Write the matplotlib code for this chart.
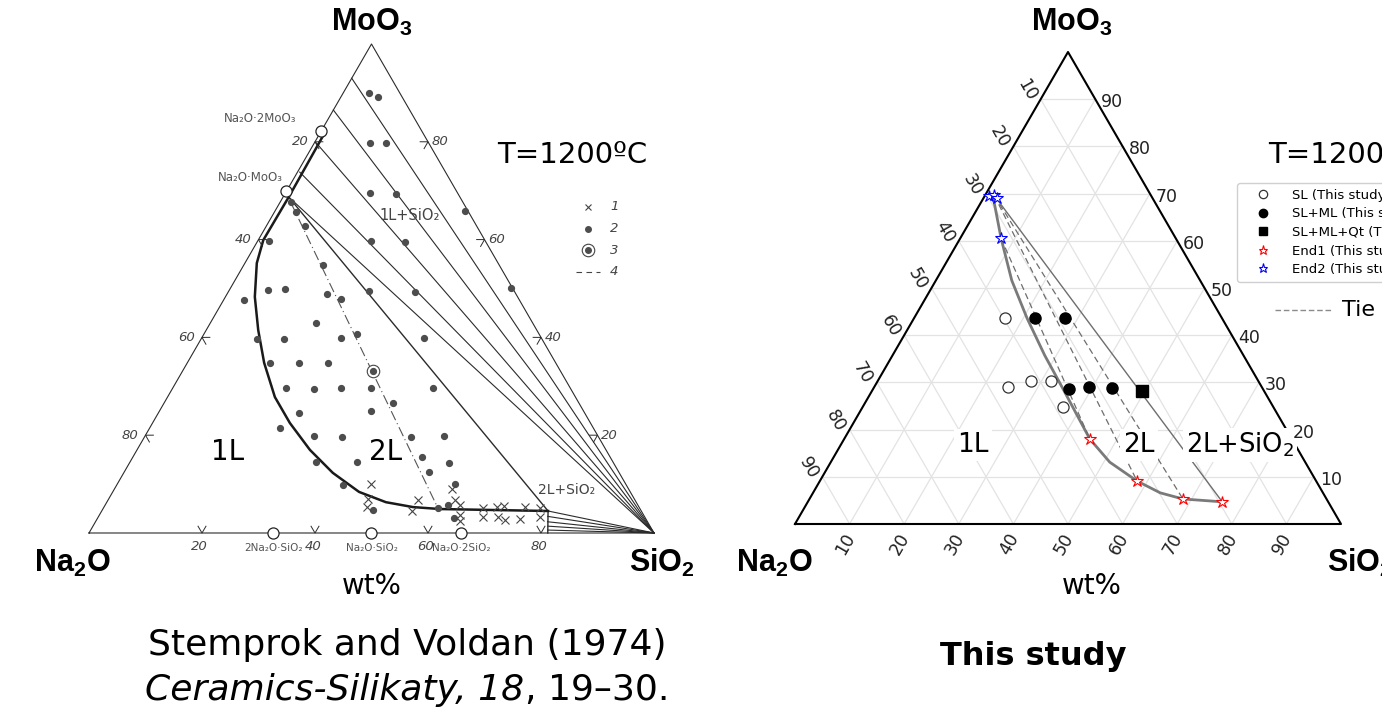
import numpy as np
import matplotlib.pyplot as plt
from matplotlib.lines import Line2D

plt.rcParams['font.family'] = ['DejaVu Sans']
plt.rcParams['mathtext.fontset'] = 'custom'
plt.rcParams['mathtext.rm'] = 'DejaVu Sans'
plt.rcParams['mathtext.it'] = 'DejaVu Sans:italic'
plt.rcParams['mathtext.bf'] = 'Liberation Sans:bold'

W, H = 1382, 722
R3 = np.sqrt(3) / 2

# ---- Stemprok and Voldan (1974), wt% SiO2 / MoO3 ----
sv_dot_sio2 = [4.6, 6.6, 9.8, 12.7, 14.9, 19.6, 33.6, 20.1, 26.2, 1.9, 3.7, 6.8, 1.9, 14.0, 49.6,
               6.8, 9.8, 3.7, 17.7, 20.7, 24.8, 33.1, 18.7, 9.8, 14.7, 24.7, 27.1, 39.4, 14.7, 19.8,
               24.9, 20.0, 25.1, 29.8, 35.1, 46.0, 37.4, 40.5, 25.0, 23.0, 29.9, 35.0, 47.1, 52.9,
               32.9, 40.1, 51.1, 56.6, 54.0, 40.1, 59.8, 47.9, 59.3, 60.7, 63.1]
sv_dot_moo3 = [90.0, 89.2, 79.8, 79.8, 69.5, 69.3, 65.9, 59.8, 59.5, 67.7, 65.7, 62.8, 59.8, 54.8, 50.1,
               49.7, 49.9, 47.6, 48.9, 47.9, 49.5, 49.3, 42.9, 39.7, 39.7, 39.9, 40.7, 39.9, 34.8, 34.8,
               34.8, 29.7, 29.4, 29.7, 29.7, 29.7, 24.9, 26.6, 24.5, 21.5, 19.8, 19.6, 19.7, 19.8,
               14.6, 14.6, 15.6, 14.4, 12.5, 9.8, 10.0, 4.7, 5.1, 5.7, 3.1]
sv_cross_sio2 = [44.9, 45.9, 46.6, 54.9, 54.9, 59.7, 61.4, 62.8, 63.9, 64.5, 67.1, 68.0, 69.5, 70.7,
                 70.7, 72.2, 74.9, 74.6, 77.3, 78.1]
sv_cross_moo3 = [10.0, 7.0, 5.3, 6.7, 4.4, 9.0, 6.7, 5.7, 3.7, 2.5, 5.2, 3.3, 5.4, 3.3,
                 5.5, 2.7, 2.9, 5.3, 5.1, 3.3]
sv_circled_sio2 = [33.6]
sv_circled_moo3 = [33.2]
sv_comp_names = ['Na₂O·2MoO₃', 'Na₂O·MoO₃', '2Na₂O·SiO₂', 'Na₂O·SiO₂', 'Na₂O·2SiO₂']
sv_comp_sio2 = [0, 0, 32.6, 50.0, 65.9]
sv_comp_moo3 = [82.3, 69.9, 0, 0, 0]
sv_binodal_sio2 = [0.8, 1.0, 0.9, 2.1, 5.2, 9.2, 13.6, 19.0, 24.3, 30.6, 37.0, 43.6, 49.4, 54.7, 59.7, 79.0]
sv_binodal_moo3 = [82.0, 69.1, 59.9, 55.2, 48.3, 41.5, 34.8, 27.8, 22.5, 17.0, 12.3, 8.4, 6.3, 5.3, 4.9, 4.5]
sv_tie_sio2 = [0, 0, 0.3, 0.4, 1.0, 79.0, 79.5, 80.0, 80.5, 80.9]
sv_tie_moo3 = [93.0, 86.5, 79.8, 73.8, 68.7, 4.5, 3.4, 2.3, 1.4, 0.6]
sv_box_sio2 = [1.0, 79.0, 81.2]
sv_box_moo3 = [68.7, 4.5, 0.0]
sv_dashdot_sio2 = [2.0, 59.2]
sv_dashdot_moo3 = [67.5, 5.1]
sv_ticks = [20, 40, 60, 80]

# ---- This study, wt% SiO2 / MoO3 ----
sl_sio2 = [16.7, 24.5, 28.1, 31.8, 36.7]
sl_moo3 = [43.6, 29.0, 30.3, 30.3, 24.8]
slml_sio2 = [22.2, 27.7, 35.9, 39.4, 43.7]
slml_moo3 = [43.6, 43.6, 28.6, 29.0, 28.8]
slmlqt_sio2 = [49.5]
slmlqt_moo3 = [28.1]
end1_sio2 = [45.0, 58.1, 68.4, 75.9]
end1_moo3 = [18.0, 9.1, 5.3, 4.7]
end2_sio2 = [0.8, 1.7, 2.5, 7.5]
end2_moo3 = [69.4, 69.6, 69.0, 60.5]
tie_end2 = [3, 1, 1]
tie_end1 = [0, 1, 2]
bound_end2, bound_end1 = 1, 3
curve_sio2 = [1.7, 7.5, 13.9, 20.7, 27.9, 34.8, 45.0, 51.1, 58.1, 63.6, 68.4, 75.9]
curve_moo3 = [69.2, 60.5, 51.6, 43.6, 35.7, 28.6, 18.0, 13.1, 9.1, 6.6, 5.3, 4.7]
ticks10 = list(range(10, 100, 10))


def tern(s, m):
    s = np.asarray(s, float) / 100
    m = np.asarray(m, float) / 100
    return s + m / 2, m * R3


def fp(x, y):
    return x / W, 1 - y / H


fig = plt.figure(figsize=(W / 100, H / 100), dpi=100)
axL = fig.add_axes([89 / W, 1 - 533 / H, 565 / W, 489 / H])
axR = fig.add_axes([795 / W, 1 - 524 / H, 546 / W, 472 / H])
for ax in (axL, axR):
    ax.set_xlim(0, 1)
    ax.set_ylim(0, R3)
    ax.axis('off')

# ================= left: Stemprok and Voldan =================
ink = '#2b2b2b'
x, y = tern([0, 100, 0, 0], [0, 0, 100, 0])
axL.plot(x, y, color=ink, lw=0.8, clip_on=False)

for s, m in zip(sv_tie_sio2, sv_tie_moo3):
    x, y = tern([s, 100], [m, 0])
    axL.plot(x, y, color=ink, lw=0.8, clip_on=False)
x, y = tern(sv_box_sio2, sv_box_moo3)
axL.plot(x, y, color=ink, lw=1.0, clip_on=False)
x, y = tern(sv_binodal_sio2, sv_binodal_moo3)
axL.plot(x, y, color='#1a1a1a', lw=1.8, clip_on=False)
x, y = tern(sv_dashdot_sio2, sv_dashdot_moo3)
axL.plot(x, y, color='#555555', lw=0.8, dashes=(9, 3, 1, 3))

x, y = tern(sv_dot_sio2, sv_dot_moo3)
axL.plot(x, y, 'o', color='#4d4d4d', ms=4.2, clip_on=False)
x, y = tern(sv_cross_sio2, sv_cross_moo3)
axL.plot(x, y, 'x', color='#444444', ms=6, mew=0.8, clip_on=False)
x, y = tern(sv_circled_sio2, sv_circled_moo3)
axL.plot(x, y, 'o', mfc='white', mec='#444444', ms=9, mew=0.8)
axL.plot(x, y, 'o', color='#4d4d4d', ms=4.2)
x, y = tern(sv_comp_sio2, sv_comp_moo3)
axL.plot(x, y, 'o', mfc='white', mec='#222222', ms=8, mew=0.9, clip_on=False, zorder=5)

small = dict(color='#555555', fontsize=8.5)
axL.text(x[0] - 0.045, y[0] + 0.01, sv_comp_names[0], ha='right', va='bottom', **small)
axL.text(x[1] - 0.006, y[1] + 0.012, sv_comp_names[1], ha='right', va='bottom', **small)
for i in range(2, 5):
    axL.text(x[i], y[i] - 0.018, sv_comp_names[i], ha='center', va='top', color='#555555', fontsize=7.5)

# v-shaped tick marks
hh, ww = 0.012, 0.007
edges = {
    'b': (np.array([1.0, 0.0]), np.array([0.0, -1.0])),
    'l': (np.array([0.5, R3]), np.array([-R3, 0.5])),
    'r': (np.array([-0.5, R3]), np.array([R3, 0.5])),
}
ital = dict(color='#444444', fontsize=9.5, style='italic')
for v in sv_ticks:
    for side, (s, m) in (('b', (v, 0)), ('l', (0, 100 - v)), ('r', (100 - v, v))):
        px_, py_ = tern(s, m)
        p = np.array([float(px_), float(py_)])
        t, n = edges[side]
        a = p - n * hh + t * ww
        b = p - n * hh - t * ww
        axL.plot([a[0], p[0], b[0]], [a[1], p[1], b[1]], color=ink, lw=0.7, clip_on=False)
        if side == 'b':
            axL.text(p[0] - 0.004, p[1] - 0.012, str(v), ha='center', va='top', **ital)
        elif side == 'l':
            axL.text(p[0] - 0.012, p[1], str(v), ha='right', va='center', **ital)
        else:
            axL.text(p[0] + 0.006, p[1], str(v), ha='left', va='center', **ital)

axL.text(*tern(24.3, 65.0), '1L+SiO₂', ha='center', va='center', color='#444444', fontsize=10.5)
axL.text(*tern(80.2, 8.8), '2L+SiO₂', ha='center', va='center', color='#444444', fontsize=10)

# small legend of the scanned figure
fig.add_artist(Line2D([fp(588, 0)[0]], [fp(0, 207)[1]], marker='x', color='#444444', ms=5, mew=0.8,
                      transform=fig.transFigure))
fig.add_artist(Line2D([fp(588, 0)[0]], [fp(0, 229)[1]], marker='o', color='#4d4d4d', ms=4,
                      transform=fig.transFigure))
fig.add_artist(Line2D([fp(588, 0)[0]], [fp(0, 250)[1]], marker='o', mfc='white', mec='#444444', ms=9,
                      mew=0.8, transform=fig.transFigure))
fig.add_artist(Line2D([fp(588, 0)[0]], [fp(0, 250)[1]], marker='o', color='#4d4d4d', ms=4,
                      transform=fig.transFigure))
fig.add_artist(Line2D([fp(576, 0)[0], fp(600, 0)[0]], [fp(0, 272)[1]] * 2, color='#444444', lw=0.8,
                      dashes=(5, 4), transform=fig.transFigure))
for i, yy in enumerate([207, 229, 250, 272]):
    fig.text(*fp(610, yy), str(i + 1), ha='left', va='center', **ital)

big = dict(fontsize=20, ha='center', va='center')
fig.text(*fp(228, 452), '1L', **big)
fig.text(*fp(386, 452), '2L', **big)
fig.text(*fp(572, 155), 'T=1200ºC', fontsize=21, ha='center', va='center')

corner = dict(fontsize=22, va='center')
fig.text(*fp(372, 22), r'$\mathbf{MoO_3}$', ha='center', **corner)
fig.text(*fp(72, 563), r'$\mathbf{Na_2O}$', ha='center', **corner)
fig.text(*fp(662, 563), r'$\mathbf{SiO_2}$', ha='center', **corner)
fig.text(*fp(372, 586), 'wt%', fontsize=20, ha='center', va='center')

fig.text(*fp(407, 645), 'Stemprok and Voldan (1974)', fontsize=26, ha='center', va='center')
r = fig.canvas.get_renderer()
t1 = fig.text(0, fp(0, 690)[1], 'Ceramics-Silikaty, 18', fontsize=26, style='italic', ha='left', va='center')
t2 = fig.text(0, fp(0, 690)[1], ', 19–30.', fontsize=26, ha='left', va='center')
w1 = t1.get_window_extent(r).width
w2 = t2.get_window_extent(r).width
x0 = 407 - (w1 + w2) / 2
t1.set_x(x0 / W)
t2.set_x((x0 + w1 + 1) / W)

# ================= right: This study =================
grid = dict(color='#e3e3e3', lw=0.9, zorder=0)
for f in ticks10:
    for s, m in ((([0, 100 - f], [f, f])), ([f, f], [0, 100 - f]), ([100 - f, 0], [0, 100 - f])):
        x, y = tern(s, m)
        axR.plot(x, y, **grid)
x, y = tern([0, 100, 0, 0], [0, 0, 100, 0])
axR.plot(x, y, color='black', lw=1.5, clip_on=False, zorder=2)

tick_font = dict(fontsize=12.5, color='#222222', zorder=8)
for v in ticks10:
    x, y = tern(0, 100 - v)
    axR.text(x - 0.0256, y + 0.0165, str(v), rotation=-60, ha='center', va='center', **tick_font)
    x, y = tern(100 - v, v)
    axR.text(x + 0.011, y - 0.0055, str(v), ha='left', va='center', **tick_font)
    x, y = tern(v, 0)
    axR.text(x - 0.0073, y - 0.037, str(v), rotation=60, ha='center', va='center', **tick_font)

x, y = tern(curve_sio2, curve_moo3)
axR.plot(x, y, color='#7a7a7a', lw=2.0, zorder=3)
e1x, e1y = tern(end1_sio2, end1_moo3)
e2x, e2y = tern(end2_sio2, end2_moo3)
for i2, i1 in zip(tie_end2, tie_end1):
    axR.plot([e2x[i2], e1x[i1]], [e2y[i2], e1y[i1]], color='#6e6e6e', lw=0.9, dashes=(5, 3), zorder=3)
axR.plot([e2x[bound_end2], e1x[bound_end1]], [e2y[bound_end2], e1y[bound_end1]],
         color='#6e6e6e', lw=1.0, zorder=3)

h_sl, = axR.plot(*tern(sl_sio2, sl_moo3), 'o', mfc='white', mec='#333333', mew=0.9, ms=8,
                 label='SL (This study)', zorder=4)
h_slml, = axR.plot(*tern(slml_sio2, slml_moo3), 'o', color='black', ms=8,
                   label='SL+ML (This study)', zorder=4)
h_qt, = axR.plot(*tern(slmlqt_sio2, slmlqt_moo3), 's', color='black', ms=8,
                 label='SL+ML+Qt (This study)', zorder=4)
h_e1, = axR.plot(e1x, e1y, '*', mfc='white', mec='red', mew=0.8, ms=9,
                 label='End1 (This study)', zorder=5, clip_on=False)
h_e2, = axR.plot(e2x, e2y, '*', mfc='white', mec='blue', mew=0.8, ms=9,
                 label='End2 (This study)', zorder=5, clip_on=False)

fig.legend(handles=[h_sl, h_slml, h_qt, h_e1, h_e2], loc='upper left',
           bbox_to_anchor=fp(1237, 183), borderaxespad=0, fontsize=9.5, markerscale=0.75,
           handlelength=3.0, handletextpad=0.7, borderpad=0.45, labelspacing=0.42,
           frameon=True, edgecolor='#d0d0d0', framealpha=1)
fig.add_artist(Line2D([fp(1275, 0)[0], fp(1331, 0)[0]], [fp(0, 310)[1]] * 2, color='#8a8a8a', lw=1.0,
                      dashes=(4, 2), transform=fig.transFigure))
fig.text(*fp(1342, 310), 'Tie line', fontsize=16, ha='left', va='center')

lab = dict(ha='center', va='center', zorder=6, transform=fig.transFigure,
           bbox=dict(boxstyle='square,pad=0.12', fc='white', ec='none'))
axR.text(*fp(973, 445), '1L', fontsize=19, **lab)
axR.text(*fp(1139, 445), '2L', fontsize=19, **lab)
axR.text(*fp(1240, 445), '2L+SiO$_2$', fontsize=18.5, **lab)
fig.text(*fp(1268, 155), 'T=1200ºC', fontsize=21, ha='left', va='center')

fig.text(*fp(1072, 22), r'$\mathbf{MoO_3}$', ha='center', **corner)
fig.text(*fp(774, 563), r'$\mathbf{Na_2O}$', ha='center', **corner)
fig.text(*fp(1327, 563), r'$\mathbf{SiO_2}$', ha='left', **corner)
fig.text(*fp(1092, 586), 'wt%', fontsize=20, ha='center', va='center')
fig.text(*fp(1033, 657), 'This study', fontsize=23, fontweight='bold', ha='center', va='center')

fig.savefig('out.png', dpi=100, facecolor='white')
